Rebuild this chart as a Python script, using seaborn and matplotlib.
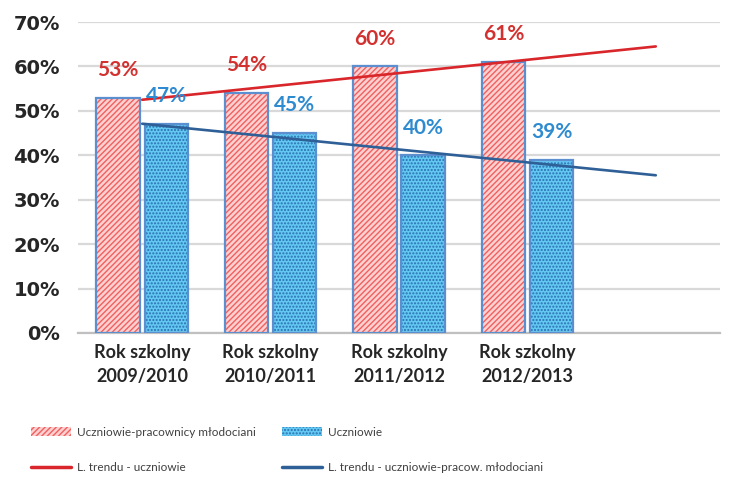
import numpy as np
import pandas as pd
import matplotlib
matplotlib.use('Agg')
import matplotlib.pyplot as plt
from matplotlib.patches import Patch, Rectangle
from matplotlib.lines import Line2D
from matplotlib.ticker import PercentFormatter
import seaborn as sns

# data
years = ['Rok szkolny\n2009/2010', 'Rok szkolny\n2010/2011',
         'Rok szkolny\n2011/2012', 'Rok szkolny\n2012/2013']
pracownicy = [53, 54, 60, 61]      # uczniowie-pracownicy młodociani
uczniowie = [47, 45, 40, 39]       # uczniowie
series_names = ['Uczniowie-pracownicy młodociani', 'Uczniowie']
trend_names = ['L. trendu - uczniowie', 'L. trendu - uczniowie-pracow. młodociani']
yticks = [0, 10, 20, 30, 40, 50, 60, 70]

RED_FILL = '#ffd0d0'
RED_HATCH = '#f06060'
BLUE_FILL = '#63c8f2'
BLUE_HATCH = '#2a6fb0'
EDGE = '#5b8fd0'
RED_TXT = '#d2312f'
BLUE_TXT = '#2f8bd0'
RED_LINE = '#d9262b'
BLUE_LINE = '#2f5f97'

sns.set_theme(style='white')
plt.rcParams['font.family'] = ['Lato', 'DejaVu Sans']
plt.rcParams['hatch.linewidth'] = 1.0

df = pd.DataFrame({
    'rok': years * 2,
    'seria': [series_names[0]] * 4 + [series_names[1]] * 4,
    'wartosc': pracownicy + uczniowie,
})

fig = plt.figure(figsize=(7.44, 4.82), dpi=100)
ax = fig.add_axes([78 / 744, 1 - 333 / 482, (720 - 78) / 744, (333 - 22) / 482])

sns.barplot(data=df, x='rok', y='wartosc', hue='seria', hue_order=series_names,
            order=years, width=0.75, gap=0.1, dodge=True, ax=ax, legend=False,
            errorbar=None)

bars = [p for p in ax.patches if isinstance(p, Rectangle)]
styles = [(RED_FILL, RED_HATCH, '//////')] * 4 + [(BLUE_FILL, BLUE_HATCH, '.....')] * 4
for p, (fc, hc, h) in zip(bars, styles):
    p.set_facecolor(fc)
    p.set_edgecolor(hc)
    p.set_hatch(h)
    p.set_linewidth(0)
    ax.add_patch(Rectangle((p.get_x(), p.get_y()), p.get_width(), p.get_height(),
                           fill=False, edgecolor=EDGE, linewidth=1.6, zorder=3))

# value labels
for p, v, col in zip(bars, pracownicy + uczniowie, [RED_TXT] * 4 + [BLUE_TXT] * 4):
    ax.text(p.get_x() + p.get_width() / 2, v + 4.0, f'{v}%', ha='center',
            va='bottom', fontsize=15, color=col, fontweight='bold', zorder=5)

# linear trend lines with one period forecast
xs = np.arange(len(years))
xt = np.arange(len(years) + 1)
c_red = np.polyfit(xs, pracownicy, 1)
c_blue = np.polyfit(xs, uczniowie, 1)
ax.plot(xt, np.polyval(c_red, xt), color=RED_LINE, lw=1.9, zorder=4)
ax.plot(xt, np.polyval(c_blue, xt), color=BLUE_LINE, lw=1.9, zorder=4)

ax.set_xlim(-0.5, len(years) + 0.5)
ax.set_ylim(0, 70)
ax.set_yticks(yticks)
ax.yaxis.set_major_formatter(PercentFormatter(decimals=0))
ax.grid(axis='y', color='#d9d9d9', lw=1.6)
ax.set_axisbelow(True)
for s in ['top', 'right', 'left']:
    ax.spines[s].set_visible(False)
ax.spines['bottom'].set_color('#c0c0c0')
ax.spines['bottom'].set_linewidth(1.6)
ax.set_xlabel('')
ax.set_ylabel('')
ax.tick_params(axis='y', length=0, pad=13)
ax.tick_params(axis='x', length=0, pad=8)
ax.set_xticks(xs)
ax.set_xticklabels(years, fontsize=13, fontweight='bold', linespacing=1.5)
for t in ax.get_yticklabels():
    t.set_fontweight('bold')
    t.set_fontsize(14)
    t.set_family(['DejaVu Sans'])
    t.set_color('#262626')
for t in ax.get_xticklabels():
    t.set_color('#262626')

# legend: row 1 bars, row 2 trend lines (column-wise fill order)
handles = [
    Patch(facecolor=RED_FILL, edgecolor=RED_HATCH, hatch='//////', lw=0),
    Line2D([], [], color=RED_LINE, lw=2.5),
    Patch(facecolor=BLUE_FILL, edgecolor=BLUE_HATCH, hatch='.....', lw=0),
    Line2D([], [], color=BLUE_LINE, lw=2.5),
]
labels = [series_names[0], trend_names[0], series_names[1], trend_names[1]]
fig.legend(handles, labels, ncol=2, loc='upper left', bbox_to_anchor=(20 / 744, 1 - 416 / 482),
           frameon=False, fontsize=8.5, handlelength=3.4, handleheight=0.9,
           handletextpad=0.5, labelspacing=2.1, columnspacing=2.2, labelcolor='#404040')

fig.savefig('out.png', dpi=100)
